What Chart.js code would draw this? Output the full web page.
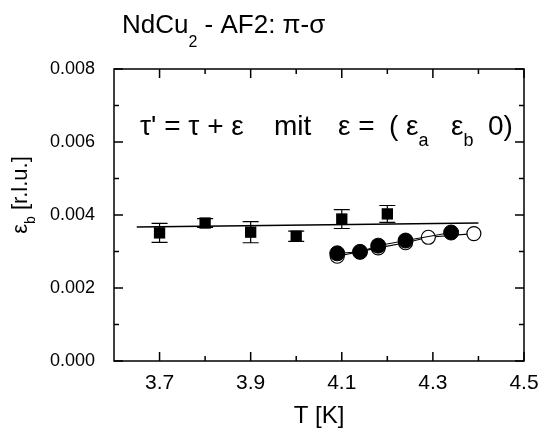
<!DOCTYPE html>
<html>
<head>
<meta charset="utf-8">
<script src="https://cdn.jsdelivr.net/npm/chart.js@4.4.0/dist/chart.umd.min.js"></script>
<style>
  body { margin: 0; background: #fff; }
  canvas { display: block; }
</style>
</head>
<body>
<canvas id="chart" width="539" height="434"></canvas>
<script>
// squares with error bars
const tempSquares = [3.70, 3.80, 3.90, 4.00, 4.10, 4.20];
const epsSquares = [0.00351, 0.00378, 0.00353, 0.00342, 0.00389, 0.00403];
const errSquares = [0.00026, 0.00012, 0.00029, 0.00014, 0.00026, 0.00023];

// linear fit through the squares
const fitTemp = [3.65, 4.40];
const fitEps = [0.00367, 0.00378];

// full circles
const tempFilled = [4.09, 4.14, 4.18, 4.24, 4.34];
const epsFilled = [0.00295, 0.00299, 0.00316, 0.00330, 0.00352];

// open circles
const tempOpen = [4.09, 4.18, 4.24, 4.29, 4.39];
const epsOpen = [0.00287, 0.00310, 0.00324, 0.00339, 0.00349];

// axis ticks
const xMajor = [3.7, 3.9, 4.1, 4.3, 4.5];
const xMinor = [3.8, 4.0, 4.2, 4.4];
const yMajor = [0, 0.002, 0.004, 0.006, 0.008];
const yMinor = [0.001, 0.003, 0.005, 0.007];

const FONT = '"Liberation Sans", Arial, sans-serif';

function toPoints(xs, ys) {
    return xs.map((x, i) => ({ x: x, y: ys[i] }));
}

function drawRich(ctx, parts, x, y, size, subSize, subDrop) {
    let cx = x;
    parts.forEach(p => {
        ctx.font = (p.sub ? subSize : size) + 'px ' + FONT;
        ctx.fillText(p.t, cx, p.sub ? y + subDrop : y);
        cx += ctx.measureText(p.t).width;
    });
    return cx - x;
}

function richWidth(ctx, parts, size, subSize) {
    let w = 0;
    parts.forEach(p => {
        ctx.font = (p.sub ? subSize : size) + 'px ' + FONT;
        w += ctx.measureText(p.t).width;
    });
    return w;
}

// error bars, frame, inward ticks and the texts with subscripts
const decorations = {
    id: 'decorations',
    afterDatasetsDraw(chart) {
        const ctx = chart.ctx;
        const xs = chart.scales.x, ys = chart.scales.y;
        const area = chart.chartArea;
        ctx.save();
        ctx.strokeStyle = '#000';
        ctx.fillStyle = '#000';

        // error bars
        ctx.lineWidth = 1.2;
        tempSquares.forEach((t, i) => {
            const px = xs.getPixelForValue(t);
            const top = ys.getPixelForValue(epsSquares[i] + errSquares[i]);
            const bot = ys.getPixelForValue(epsSquares[i] - errSquares[i]);
            ctx.beginPath();
            ctx.moveTo(px, top); ctx.lineTo(px, bot);
            ctx.moveTo(px - 8, top); ctx.lineTo(px + 8, top);
            ctx.moveTo(px - 8, bot); ctx.lineTo(px + 8, bot);
            ctx.stroke();
        });

        // frame
        ctx.lineWidth = 1.5;
        ctx.strokeRect(area.left, area.top, area.right - area.left, area.bottom - area.top);

        // ticks pointing inward on all four sides
        ctx.beginPath();
        const tickX = (v, len) => {
            const px = xs.getPixelForValue(v);
            ctx.moveTo(px, area.bottom); ctx.lineTo(px, area.bottom - len);
            ctx.moveTo(px, area.top); ctx.lineTo(px, area.top + len);
        };
        const tickY = (v, len) => {
            const py = ys.getPixelForValue(v);
            ctx.moveTo(area.left, py); ctx.lineTo(area.left + len, py);
            ctx.moveTo(area.right, py); ctx.lineTo(area.right - len, py);
        };
        xMajor.forEach(v => tickX(v, 9));
        xMinor.forEach(v => tickX(v, 5));
        yMajor.forEach(v => tickY(v, 9));
        yMinor.forEach(v => tickY(v, 5));
        ctx.stroke();

        ctx.textBaseline = 'alphabetic';
        ctx.textAlign = 'left';

        // title
        drawRich(ctx, [
            { t: 'NdCu' }, { t: '2', sub: true }, { t: ' - AF2: π-σ' }
        ], 122, 33, 26, 16, 14);

        // formula inside the plot, pieces placed as in the original
        const fy = 135;
        drawRich(ctx, [{ t: 'τ\' = τ + ε' }], 140, fy, 28, 18, 11);
        drawRich(ctx, [{ t: 'mit' }], 274, fy, 28, 18, 11);
        drawRich(ctx, [{ t: 'ε =' }], 338, fy, 28, 18, 11);
        drawRich(ctx, [{ t: '(' }], 389, fy, 28, 18, 11);
        drawRich(ctx, [{ t: 'ε' }, { t: 'a', sub: true }], 406, fy, 28, 18, 11);
        drawRich(ctx, [{ t: 'ε' }, { t: 'b', sub: true }], 451, fy, 28, 18, 11);
        drawRich(ctx, [{ t: '0)' }], 488, fy, 28, 18, 11);

        // x axis title
        ctx.font = '24px ' + FONT;
        ctx.textAlign = 'center';
        ctx.fillText('T [K]', (area.left + area.right) / 2, 423);

        // y axis title, rotated
        const yParts = [{ t: 'ε' }, { t: 'b', sub: true }, { t: ' [r.l.u.]' }];
        const w = richWidth(ctx, yParts, 22, 14);
        ctx.translate(27, 195);
        ctx.rotate(-Math.PI / 2);
        ctx.textAlign = 'left';
        drawRich(ctx, yParts, -w / 2, 0, 22, 14, 8);
        ctx.restore();
    }
};

const chart = new Chart(document.getElementById('chart').getContext('2d'), {
    type: 'scatter',
    data: {
        datasets: [
            {
                label: 'squares',
                data: toPoints(tempSquares, epsSquares),
                pointStyle: 'rect',
                pointRadius: 8,
                backgroundColor: '#000',
                borderColor: '#000',
                borderWidth: 0,
                order: 0
            },
            {
                label: 'filled',
                data: toPoints(tempFilled, epsFilled),
                showLine: true,
                pointStyle: 'circle',
                pointRadius: 7.5,
                backgroundColor: '#000',
                borderColor: '#000',
                borderWidth: 1,
                order: 1
            },
            {
                label: 'open',
                data: toPoints(tempOpen, epsOpen),
                showLine: true,
                pointStyle: 'circle',
                pointRadius: 7,
                backgroundColor: '#fff',
                borderColor: '#000',
                borderWidth: 1.2,
                order: 2
            },
            {
                label: 'fit',
                data: toPoints(fitTemp, fitEps),
                showLine: true,
                pointRadius: 0,
                borderColor: '#000',
                borderWidth: 1.5,
                order: 3
            }
        ]
    },
    options: {
        responsive: false,
        animation: false,
        events: [],
        layout: { padding: { top: 69, right: 15, left: 0, bottom: 0 } },
        plugins: {
            legend: { display: false },
            tooltip: { enabled: false }
        },
        scales: {
            x: {
                type: 'linear',
                min: 3.6,
                max: 4.5,
                grid: { display: false },
                border: { display: false },
                afterBuildTicks: scale => { scale.ticks = xMajor.map(v => ({ value: v })); },
                afterFit: scale => { scale.height = 73; scale.paddingLeft = 0; scale.paddingRight = 0; },
                ticks: {
                    color: '#000',
                    padding: 2,
                    maxRotation: 0,
                    font: { family: FONT, size: 21 },
                    callback: v => v.toFixed(1)
                }
            },
            y: {
                type: 'linear',
                min: 0,
                max: 0.008,
                grid: { display: false },
                border: { display: false },
                afterBuildTicks: scale => { scale.ticks = yMajor.map(v => ({ value: v })); },
                afterFit: scale => { scale.width = 114; scale.paddingTop = 0; scale.paddingBottom = 0; },
                ticks: {
                    color: '#000',
                    padding: 11,
                    font: { family: FONT, size: 18 },
                    callback: v => v.toFixed(3)
                }
            }
        }
    },
    plugins: [decorations]
});
</script>
</body>
</html>
